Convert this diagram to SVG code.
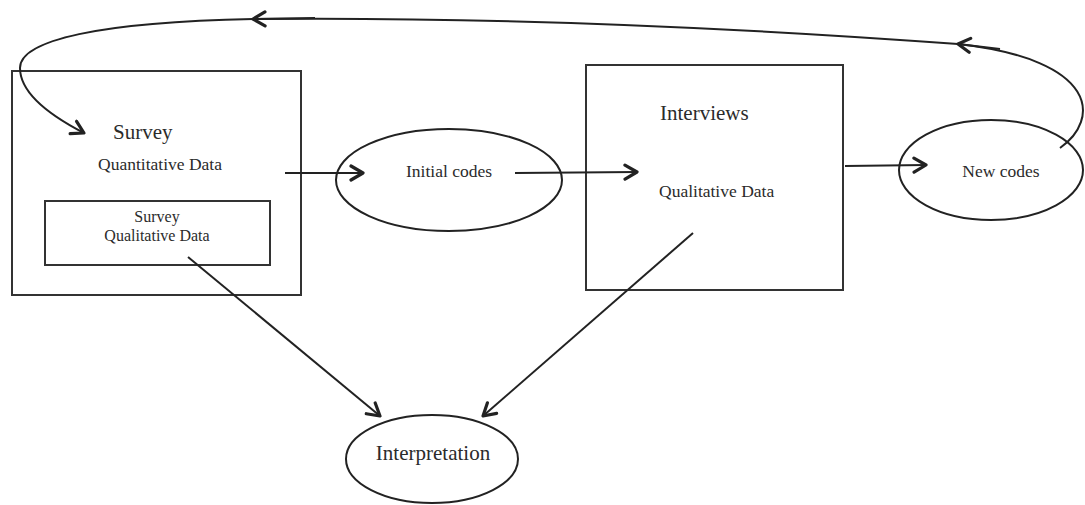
<svg xmlns="http://www.w3.org/2000/svg" width="1085" height="505" viewBox="0 0 1085 505">
  <defs>
    <marker id="arrow" viewBox="0 0 16 18" refX="14" refY="9" markerWidth="16" markerHeight="18" markerUnits="userSpaceOnUse" orient="auto">
      <path d="M2,2 L14,9 L2,16" fill="none" stroke="#222" stroke-width="3.2" stroke-linecap="round" stroke-linejoin="round"/>
    </marker>
    <style>
      .box { fill: #fff; stroke: #333; stroke-width: 2; }
      .oval { fill: #fff; stroke: #222; stroke-width: 2; }
      .edge { fill: none; stroke: #222; stroke-width: 2; }
      .arr { marker-end: url(#arrow); }
      text { font-family: "Liberation Serif", "Times New Roman", serif; fill: #2b2b2b; }
      .lg { font-size: 21px; }
      .md { font-size: 17.5px; }
      .sm { font-size: 16px; }
      .ctr { text-anchor: middle; }
    </style>
  </defs>

  <!-- Survey block with nested qualitative box -->
  <g id="survey">
    <rect class="box" x="12" y="71" width="289" height="224"/>
    <text class="lg" x="113" y="139">Survey</text>
    <text class="md ctr" x="160" y="170">Quantitative Data</text>
  </g>
  <g id="survey-qualitative">
    <rect class="box" x="45" y="201" width="225" height="64"/>
    <text class="sm ctr" x="157" y="222">Survey</text>
    <text class="sm ctr" x="157" y="241">Qualitative Data</text>
  </g>

  <g id="initial-codes">
    <ellipse class="oval" cx="449" cy="180" rx="113" ry="51"/>
    <text class="md ctr" x="449" y="177">Initial codes</text>
  </g>

  <g id="interviews">
    <rect class="box" x="586" y="65" width="257" height="225"/>
    <text class="lg" x="660" y="120">Interviews</text>
    <text class="md" x="659" y="197">Qualitative Data</text>
  </g>

  <g id="new-codes">
    <ellipse class="oval" cx="991" cy="170" rx="92" ry="50"/>
    <text class="md ctr" x="1001" y="177">New codes</text>
  </g>

  <g id="interpretation">
    <ellipse class="oval" cx="432" cy="459" rx="86" ry="44"/>
    <text class="lg ctr" x="433" y="460">Interpretation</text>
  </g>

  <!-- connectors -->
  <g id="connectors">
    <path class="edge arr" d="M285,173 L363,173"/>
    <path class="edge arr" d="M515,173 L637,172"/>
    <path class="edge arr" d="M845,166 L926,165"/>
    <path class="edge arr" d="M188,257 L380,416"/>
    <path class="edge arr" d="M693,233 L483,416"/>
    <!-- feedback loop from new codes back to survey -->
    <path class="edge arr" d="M1060,148 C1100,120 1100,60 958,44"/>
    <path class="edge arr" d="M958,44 Q580,16 253,19"/>
    <path class="edge" d="M315,18 L253,19" stroke-width="3"/>
    <path class="edge" d="M958,44 L1000,49" stroke-width="3"/>
    <path class="edge arr" d="M253,19 C100,22 20,40 20,68 C20,95 55,118 84,133"/>
  </g>
</svg>
